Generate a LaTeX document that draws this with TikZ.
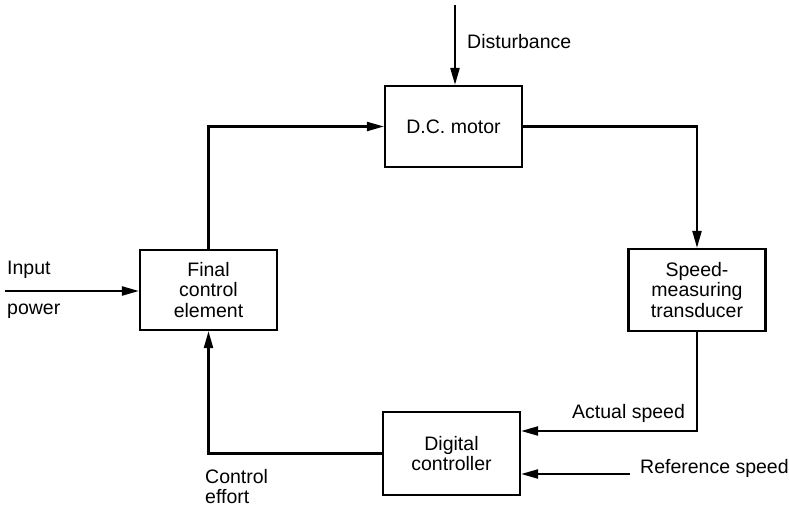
\documentclass[tikz,border=0pt]{standalone}
\usepackage{fontspec}
\setmainfont{Liberation Sans}
\usetikzlibrary{arrows.meta}
\begin{document}
\begin{tikzpicture}[x=1pt,y=-1pt,
  font=\fontsize{19.5}{20.5}\selectfont,
  blk/.style={draw, line width=2.2pt, minimum width=137pt, minimum height=81pt, inner sep=0pt, align=center},
  arr/.style={line width=2.2pt, -{Triangle[length=17pt,width=9pt]}},
  lbl/.style={inner sep=0pt, anchor=west}]
\useasboundingbox (0,0) rectangle (789,508);
\node[blk] (motor) at (453.5,126.5) {D.C. motor};
\node[blk, minimum height=80pt] (fce) at (208.5,290) {Final\\control\\element};
\node[blk, minimum height=82pt] (trans) at (697,290) {Speed-\\measuring\\transducer};
\node[blk, minimum height=83pt] (dig) at (451.5,453.5) {Digital\\controller};
\coordinate (dist) at (455,5);
\coordinate (inp) at (5,291);
\coordinate (ref) at (630,474);
\draw[arr] (dist) -- (dist |- motor.north);
\draw[arr] (fce.north) |- (motor.west);
\draw[arr] (motor.east) -| (trans.north);
\draw[arr] (trans.south) |- ([yshift=22.5pt]dig.east);
\draw[arr] (ref) -- (ref -| dig.east);
\draw[arr] (inp) -- (inp -| fce.west);
\draw[arr] (dig.west) -| (fce.south);
\node[lbl] (ldist) at (467,42) {Disturbance};
\node[lbl] (linput) at (7,270) {Input};
\node[lbl] (lpower) at (7,311) {power};
\node[lbl] (lact) at (572,413) {Actual speed};
\node[lbl] (lref) at (640,468) {Reference speed};
\node[lbl] (lctrl) at (205,477) {Control};
\node[lbl] (leff) at (205,497) {effort};
\end{tikzpicture}
\end{document}
